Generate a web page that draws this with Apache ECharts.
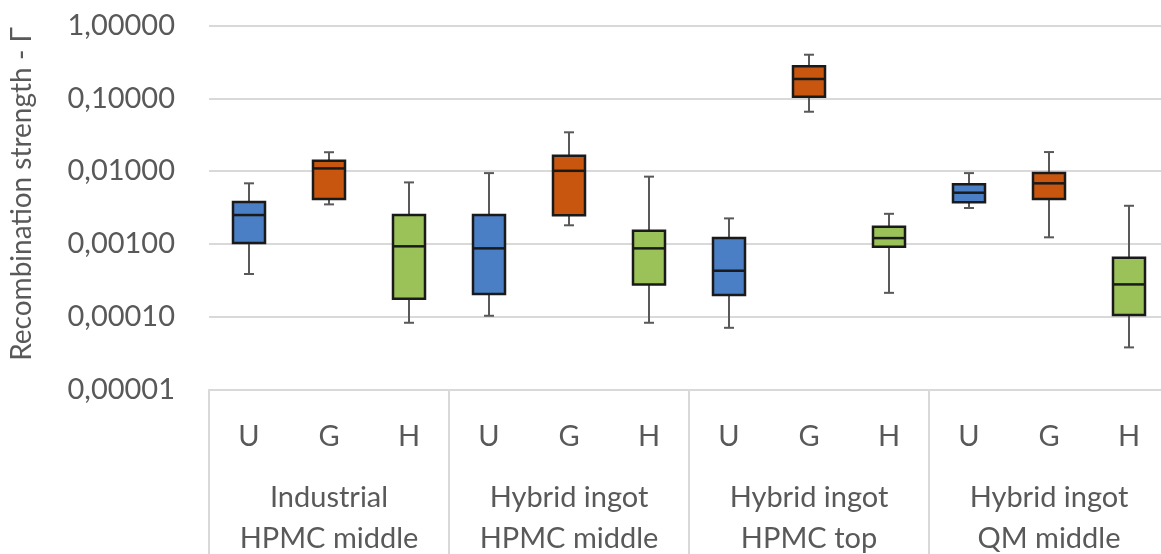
<!DOCTYPE html>
<html>
<head>
<meta charset="utf-8">
<script src="https://cdn.jsdelivr.net/npm/echarts@6/dist/echarts.min.js"></script>
<style>
html,body{margin:0;padding:0;background:#fff;}
#chart{width:1161px;height:554px;}
</style>
</head>
<body>
<div id="chart"></div>
<script>
// ---- data ----
const categories = ['U','G','H','U','G','H','U','G','H','U','G','H'];
const groups = ['Industrial\nHPMC middle','Hybrid ingot\nHPMC middle','Hybrid ingot\nHPMC top','Hybrid ingot\nQM middle'];
const whiskerHigh = [0.0068, 0.0182, 0.0070, 0.0094, 0.0342, 0.0084, 0.00224, 0.399, 0.00259, 0.0094, 0.0183, 0.00334];
const q3          = [0.00376, 0.0139, 0.00249, 0.00249, 0.0163, 0.00151, 0.00120, 0.276, 0.00172, 0.00658, 0.0094, 0.000644];
const median      = [0.00249, 0.0109, 0.000925, 0.000867, 0.0101, 0.000867, 0.000427, 0.185, 0.00120, 0.00505, 0.0068, 0.000277];
const q1          = [0.00103, 0.00413, 0.000176, 0.000204, 0.00247, 0.000277, 0.000198, 0.1055, 0.000912, 0.00372, 0.00413, 0.000105];
const whiskerLow  = [0.000385, 0.00349, 0.0000822, 0.0001026, 0.0018, 0.0000822, 0.0000701, 0.0656, 0.000212, 0.00311, 0.00123, 0.0000377];
const yName = 'Recombination strength - Γ';

// ---- styles ----
const fills = ['#4a7fc6', '#c9560f', '#9bc258'];
const textColor = '#595959';
const fontFamily = 'Lato, "Open Sans", sans-serif';

const rows = categories.map((c, i) => [i, whiskerLow[i], q1[i], median[i], q3[i], whiskerHigh[i]]);

const chart = echarts.init(document.getElementById('chart'), null, {renderer: 'canvas'});
chart.setOption({
  animation: false,
  backgroundColor: '#ffffff',
  grid: {left: 209, top: 25.7, width: 960, height: 363.6, containLabel: false, outerBoundsMode: 'none'},
  graphic: [{
    type: 'text',
    x: 22, y: 194,
    rotation: Math.PI / 2,
    style: {text: yName, fill: textColor, font: '28px ' + fontFamily, textAlign: 'center', textVerticalAlign: 'middle'}
  }],
  xAxis: [{
    type: 'category',
    data: categories,
    position: 'bottom',
    axisLine: {show: true, lineStyle: {color: '#d9d9d9', width: 2}},
    axisTick: {show: false},
    splitLine: {show: false},
    axisLabel: {color: textColor, fontSize: 29, fontFamily: fontFamily, margin: 32, lineHeight: 30}
  }, {
    type: 'category',
    data: groups,
    position: 'bottom',
    axisLine: {show: false},
    axisTick: {show: true, length: 170, interval: 0, lineStyle: {color: '#d9d9d9', width: 2}},
    axisLabel: {color: textColor, fontSize: 29, fontFamily: fontFamily, margin: 88, lineHeight: 41, interval: 0}
  }],
  yAxis: {
    type: 'log',
    logBase: 10,
    min: 0.00001,
    max: 1,
    axisLine: {show: false},
    axisTick: {show: false},
    splitLine: {show: true, lineStyle: {color: '#d9d9d9', width: 2}},
    axisLabel: {
      color: textColor, fontSize: 29, fontFamily: fontFamily, margin: 34,
      formatter: v => Number(v).toFixed(5).replace('.', ',')
    }
  },
  series: [{
    type: 'custom',
    xAxisIndex: 0,
    yAxisIndex: 0,
    data: rows,
    encode: {x: 0, y: [1, 2, 3, 4, 5]},
    renderItem: function (params, api) {
      const idx = api.value(0);
      const pLow = api.coord([idx, api.value(1)]);
      const pQ1 = api.coord([idx, api.value(2)]);
      const pMed = api.coord([idx, api.value(3)]);
      const pQ3 = api.coord([idx, api.value(4)]);
      const pHigh = api.coord([idx, api.value(5)]);
      const bandW = api.size([1, 0])[0];
      const bw = bandW * 0.4;
      const cw = 10;
      const x = pMed[0];
      const wStyle = {stroke: '#595959', lineWidth: 2};
      const bStyle = {stroke: '#1a1a1a', lineWidth: 2.5};
      return {
        type: 'group',
        children: [
          {type: 'line', shape: {x1: x, y1: pHigh[1], x2: x, y2: pQ3[1]}, style: wStyle},
          {type: 'line', shape: {x1: x, y1: pQ1[1], x2: x, y2: pLow[1]}, style: wStyle},
          {type: 'line', shape: {x1: x - cw / 2, y1: pHigh[1], x2: x + cw / 2, y2: pHigh[1]}, style: wStyle},
          {type: 'line', shape: {x1: x - cw / 2, y1: pLow[1], x2: x + cw / 2, y2: pLow[1]}, style: wStyle},
          {type: 'rect', shape: {x: x - bw / 2, y: pQ3[1], width: bw, height: pQ1[1] - pQ3[1]},
           style: {fill: fills[idx % 3], stroke: '#1a1a1a', lineWidth: 2.5}},
          {type: 'line', shape: {x1: x - bw / 2, y1: pMed[1], x2: x + bw / 2, y2: pMed[1]}, style: bStyle}
        ]
      };
    }
  }]
});
</script>
</body>
</html>
